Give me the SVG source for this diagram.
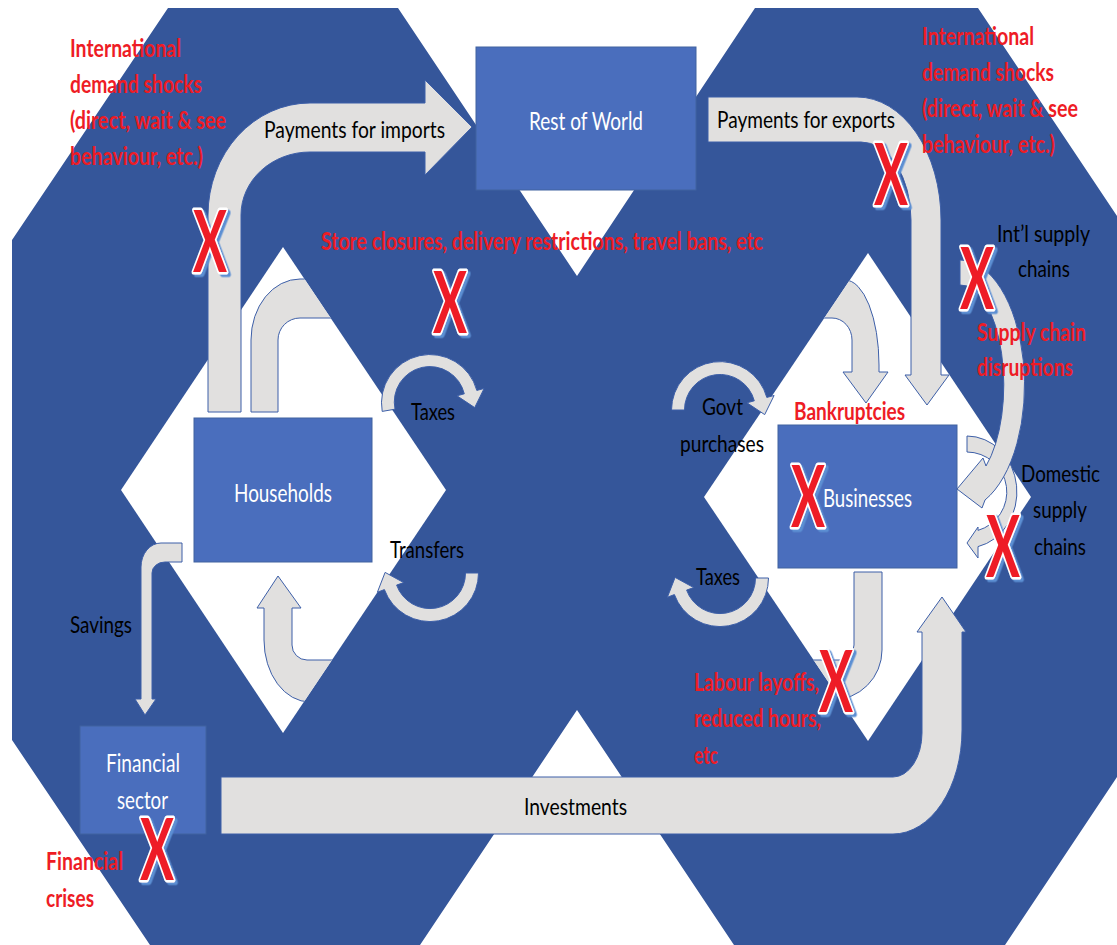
<svg xmlns="http://www.w3.org/2000/svg" width="1117" height="945" viewBox="0 0 1117 945">
<defs>
<style>
.bg{fill:#35569A}
.dia{fill:#FFFFFF}
.box{fill:#4A6EBD;stroke:#41629F;stroke-width:1}
.arr{fill:#E1E0DF;stroke:#3D5FA8;stroke-width:1}
text{font-family:Lato,"Liberation Sans",sans-serif}
.k{font-size:24px;fill:#000000}
.w{font-size:25px;fill:#FFFFFF}
.r{font-size:25px;font-weight:bold;fill:#EE1C25}
.xm{font-size:86px;font-weight:bold;fill:#EE1C25;stroke:#FFFFFF;stroke-width:5;paint-order:stroke;stroke-linejoin:round;filter:url(#xsh)}
</style>
<filter id="xsh" x="-30%" y="-30%" width="160%" height="160%">
<feDropShadow dx="2.5" dy="2.5" stdDeviation="0.4" flood-color="#5B8FD3" flood-opacity="1"/>
</filter>
<clipPath id="cl"><polygon points="283,247 446,490 283,733 121,490"/></clipPath>
<clipPath id="cr"><polygon points="868,253 1031,497 868,741 704,497"/></clipPath>
</defs>

<g id="background">
<rect x="0" y="0" width="1117" height="945" fill="#FFFFFF"/>
<polygon class="bg" points="12,240 168,8 398,8 577,276 755,8 978,8 1117,216 1117,777 1005,945 734,945 577,710 420,945 150,945 12,740"/>
<polygon class="dia" points="283,247 446,490 283,733 121,490"/>
<polygon class="dia" points="868,253 1031,497 868,741 704,497"/>
</g>

<g id="connectors">
<path class="arr" clip-path="url(#cl)" d="M251,412 L251,340 A49,61 0 0 1 300,279 L380,279 L380,318 L300,318 A22,22 0 0 0 278,340 L278,412 Z"/>
<path class="arr" clip-path="url(#cl)" d="M278,576 L301,608 L292,608 L292,645 A15,15 0 0 0 307,660 L400,660 L400,702 L310,702 A46,62 0 0 1 264,640 L264,608 L257,608 Z"/>
<path class="arr" clip-path="url(#cr)" d="M780,280 L845,280 A34,85 0 0 1 879,365 L879,372 L888,372 L866,403 L843,372 L852,372 L852,340 A20,22 0 0 0 832,318 L780,318 Z"/>
<path class="arr" clip-path="url(#cr)" d="M854,572 L882,572 L882,650 A50,50 0 0 1 832,700 L760,700 L760,660 L840,660 A14,15 0 0 0 854,645 Z"/>
<path class="arr" d="M208,412 L208,215 A102,112 0 0 1 310,103 L425,103 L425,80 L472,127 L425,175 L425,152 L310,152 A69,63 0 0 0 241,215 L241,412 Z"/>
<path class="arr" d="M708,97 L857,97 A84,123 0 0 1 941,220 L941,375 L949,375 L927,405 L905,375 L911,375 L911,220 A50,78 0 0 0 861,142 L708,142 Z"/>
<path class="arr" d="M395.0,409.2 L382.2,411.4 A48.5,48.5 0 0 1 476.8,390.4 L484.1,388.5 L474.7,407.6 L457.0,395.8 L464.3,393.8 A35.5,35.5 0 0 0 395.0,409.2 Z"/>
<path class="arr" d="M465.5,573 L478.5,573 A48.5,48.5 0 0 1 384.4,589.6 L377.4,592.2 L385.1,572.4 L403.7,582.6 L396.6,585.1 A35.5,35.5 0 0 0 465.5,573 Z"/>
<path class="arr" d="M684.5,410 L671.5,410 A48.5,48.5 0 0 1 766.8,397.4 L774.1,395.5 L764.7,414.6 L747.0,402.8 L754.3,400.8 A35.5,35.5 0 0 0 684.5,410 Z"/>
<path class="arr" d="M755.5,578 L768.5,578 A48.5,48.5 0 0 1 674.4,594.6 L667.4,597.2 L675.1,577.4 L693.7,587.6 L686.6,590.1 A35.5,35.5 0 0 0 755.5,578 Z"/>
<path class="arr" d="M182,543 L182,562 L165,562 A13,11 0 0 0 152,573 L152,699 L156,699 L145,715 L135,699 L141,699 L141,567 A20,24 0 0 1 161,543 Z"/>
<path class="arr" d="M221,777 L893,777 A29,44 0 0 0 922,733 L922,632 L917,632 L942,597 L966,632 L962,632 L962,730 A69,104 0 0 1 893,834 L221,834 Z"/>
<path class="arr" d="M967,436 A50,56 0 0 1 978,546.6 L978,558 L967,543 L978,527 L978,530.4 A40,40 0 0 0 967,452 Z"/>
<path class="arr" d="M960,260 A65,125 0 0 1 985,500 L982,508 L957,489 L983,458 L986,466 A43,100 0 0 0 960,285 Z"/>

<text class="k" x="264" y="138" textLength="181" lengthAdjust="spacingAndGlyphs">Payments for imports</text>
<text class="k" x="717" y="128" textLength="178" lengthAdjust="spacingAndGlyphs">Payments for exports</text>
<text class="k" x="411" y="420" textLength="44" lengthAdjust="spacingAndGlyphs">Taxes</text>
<text class="k" x="390" y="558" textLength="74" lengthAdjust="spacingAndGlyphs">Transfers</text>
<text class="k" x="70" y="633" textLength="62" lengthAdjust="spacingAndGlyphs">Savings</text>
<text class="k" x="524" y="815" textLength="103" lengthAdjust="spacingAndGlyphs">Investments</text>
<text class="k" x="702" y="415" textLength="41" lengthAdjust="spacingAndGlyphs">Govt</text>
<text class="k" x="680" y="452" textLength="84" lengthAdjust="spacingAndGlyphs">purchases</text>
<text class="k" x="696" y="585" textLength="44" lengthAdjust="spacingAndGlyphs">Taxes</text>
<text class="k" x="997" y="242" textLength="93" lengthAdjust="spacingAndGlyphs">Int’l supply</text>
<text class="k" x="1018" y="277" textLength="52" lengthAdjust="spacingAndGlyphs">chains</text>
<text class="k" x="1021" y="482" textLength="79" lengthAdjust="spacingAndGlyphs">Domestic</text>
<text class="k" x="1033" y="518" textLength="54" lengthAdjust="spacingAndGlyphs">supply</text>
<text class="k" x="1034" y="555" textLength="52" lengthAdjust="spacingAndGlyphs">chains</text>
</g>

<g id="rest-of-world">
<rect class="box" x="476" y="47" width="220" height="143"/>
<text class="w" x="529" y="130" textLength="114" lengthAdjust="spacingAndGlyphs">Rest of World</text>
</g>
<g id="households">
<rect class="box" x="194" y="418" width="178" height="144"/>
<text class="w" x="234" y="502" textLength="98" lengthAdjust="spacingAndGlyphs">Households</text>
</g>
<g id="businesses">
<rect class="box" x="778" y="425" width="179" height="143"/>
<text class="w" x="823" y="507" textLength="89" lengthAdjust="spacingAndGlyphs">Businesses</text>
</g>
<g id="financial-sector">
<rect class="box" x="80" y="726" width="126" height="108"/>
<text class="w" x="106" y="772" textLength="74" lengthAdjust="spacingAndGlyphs">Financial</text>
<text class="w" x="117" y="809" textLength="51" lengthAdjust="spacingAndGlyphs">sector</text>
</g>

<g id="shocks">
<text class="r" x="70" y="57" textLength="111" lengthAdjust="spacingAndGlyphs">International</text>
<text class="r" x="70" y="93" textLength="132" lengthAdjust="spacingAndGlyphs">demand shocks</text>
<text class="r" x="70" y="129" textLength="156" lengthAdjust="spacingAndGlyphs">(direct, wait &amp; see</text>
<text class="r" x="70" y="165" textLength="133" lengthAdjust="spacingAndGlyphs">behaviour, etc.)</text>
<text class="r" x="922" y="45" textLength="112" lengthAdjust="spacingAndGlyphs">International</text>
<text class="r" x="922" y="81" textLength="132" lengthAdjust="spacingAndGlyphs">demand shocks</text>
<text class="r" x="922" y="117" textLength="156" lengthAdjust="spacingAndGlyphs">(direct, wait &amp; see</text>
<text class="r" x="922" y="153" textLength="133" lengthAdjust="spacingAndGlyphs">behaviour, etc.)</text>
<text class="r" x="321" y="250" textLength="442" lengthAdjust="spacingAndGlyphs">Store closures, delivery restrictions, travel bans, etc</text>
<text class="r" x="977" y="341" textLength="109" lengthAdjust="spacingAndGlyphs">Supply chain</text>
<text class="r" x="977" y="376" textLength="96" lengthAdjust="spacingAndGlyphs">disruptions</text>
<text class="r" x="794" y="420" textLength="111" lengthAdjust="spacingAndGlyphs">Bankruptcies</text>
<text class="r" x="694" y="691" textLength="125" lengthAdjust="spacingAndGlyphs">Labour layoffs,</text>
<text class="r" x="694" y="727" textLength="127" lengthAdjust="spacingAndGlyphs">reduced hours,</text>
<text class="r" x="694" y="764" textLength="24" lengthAdjust="spacingAndGlyphs">etc</text>
<text class="r" x="46" y="870" textLength="77" lengthAdjust="spacingAndGlyphs">Financial</text>
<text class="r" x="46" y="907" textLength="48" lengthAdjust="spacingAndGlyphs">crises</text>
</g>

<g id="x-marks">
<text class="xm" x="193" y="272" textLength="34" lengthAdjust="spacingAndGlyphs">X</text>
<text class="xm" x="433" y="333" textLength="34" lengthAdjust="spacingAndGlyphs">X</text>
<text class="xm" x="874" y="205" textLength="34" lengthAdjust="spacingAndGlyphs">X</text>
<text class="xm" x="960" y="309" textLength="34" lengthAdjust="spacingAndGlyphs">X</text>
<text class="xm" x="791" y="527" textLength="34" lengthAdjust="spacingAndGlyphs">X</text>
<text class="xm" x="986" y="577" textLength="34" lengthAdjust="spacingAndGlyphs">X</text>
<text class="xm" x="819" y="712" textLength="34" lengthAdjust="spacingAndGlyphs">X</text>
<text class="xm" x="140" y="880" textLength="34" lengthAdjust="spacingAndGlyphs">X</text>
</g>
</svg>
